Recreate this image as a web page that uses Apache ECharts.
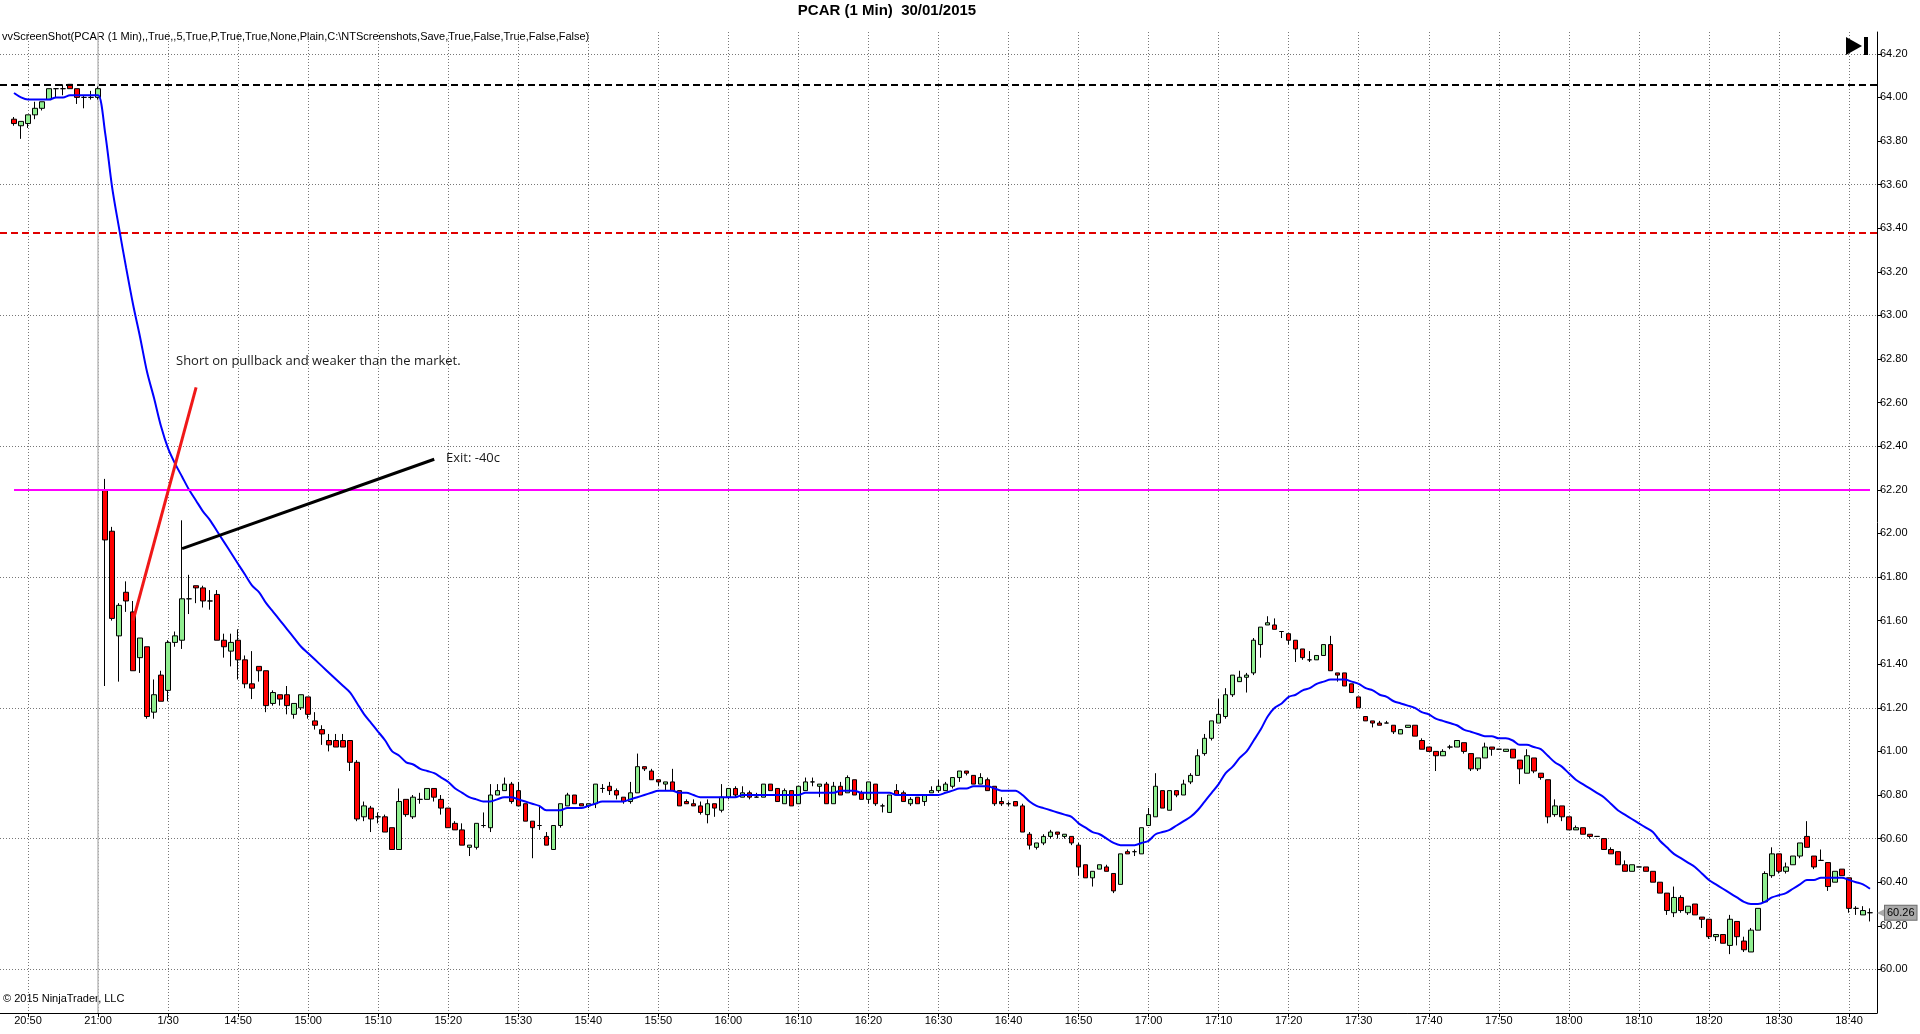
<!DOCTYPE html>
<html lang="en">
<head>
    <meta charset="utf-8">
    <script src="https://cdn.jsdelivr.net/npm/echarts@6/dist/echarts.min.js"></script>
    <style>
        html, body { margin: 0; padding: 0; background: #fff; }
        #main { width: 1920px; height: 1034px; }
    </style>
</head>
<body>
<div id="main"></div>
<script>
    // sessions shown on the chart (1 minute bars)
    var sessions = [['20:48', '21:00'], ['14:31', '18:43']];
    var dayLabels = {'14:40': '1/30'};

    var open = [
        63.90,63.87,63.88,63.92,63.95,63.99,64.04,64.04,64.06,64.04,
        64.00,64.00,64.00,62.20,62.01,61.53,61.73,61.64,61.43,61.48,
        61.18,61.35,61.28,61.50,61.51,61.70,61.76,61.75,61.69,61.72,
        61.51,61.46,61.51,61.42,61.31,61.39,61.37,61.22,61.26,61.26,
        61.17,61.20,61.25,61.14,61.10,61.05,61.05,61.05,61.05,60.95,
        60.70,60.74,60.70,60.70,60.65,60.55,60.78,60.70,60.78,60.78,
        60.83,60.78,60.74,60.67,60.64,60.56,60.56,60.66,60.65,60.80,
        60.82,60.85,60.82,60.76,60.68,60.66,60.61,60.55,60.66,60.75,
        60.80,60.76,60.75,60.76,60.83,60.84,60.82,60.79,60.77,60.81,
        60.93,60.91,60.87,60.85,60.86,60.82,60.77,60.76,60.75,60.71,
        60.76,60.73,60.79,60.83,60.79,60.81,60.79,60.79,60.85,60.83,
        60.76,60.82,60.76,60.82,60.86,60.84,60.85,60.76,60.84,60.81,
        60.87,60.81,60.78,60.85,60.75,60.72,60.82,60.81,60.76,60.79,
        60.77,60.81,60.82,60.82,60.84,60.88,60.91,60.89,60.85,60.87,
        60.84,60.77,60.76,60.77,60.75,60.62,60.56,60.58,60.61,60.63,
        60.61,60.61,60.57,60.48,60.42,60.46,60.47,60.44,60.39,60.54,
        60.54,60.53,60.66,60.70,60.82,60.73,60.82,60.80,60.86,60.89,
        60.99,61.06,61.13,61.16,61.26,61.32,61.34,61.36,61.49,61.58,
        61.58,61.55,61.54,61.51,61.47,61.42,61.42,61.44,61.49,61.36,
        61.36,61.31,61.25,61.16,61.14,61.13,61.13,61.12,61.08,61.11,
        61.12,61.05,61.02,61.00,60.98,61.02,61.02,61.04,60.99,60.92,
        60.97,61.02,61.01,61.00,61.01,60.96,60.90,60.97,60.90,60.87,
        60.71,60.75,60.70,60.64,60.65,60.62,60.61,60.60,60.55,60.54,
        60.48,60.45,60.47,60.47,60.45,60.40,60.35,60.26,60.33,60.26,
        60.30,60.24,60.23,60.15,60.16,60.11,60.22,60.13,60.08,60.18,
        60.31,60.43,60.53,60.45,60.48,60.52,60.61,60.52,60.50,60.49,
        60.40,60.46,60.42,60.28,60.25,60.26
    ];
    var high = [
        63.91,63.89,63.92,63.98,63.98,64.04,64.04,64.06,64.06,64.04,
        64.01,64.03,64.05,62.25,62.03,61.68,61.78,61.69,61.52,61.48,
        61.33,61.37,61.51,61.55,62.06,61.81,61.76,61.76,61.74,61.74,
        61.54,61.54,61.56,61.44,61.46,61.39,61.37,61.28,61.26,61.30,
        61.22,61.26,61.25,61.18,61.12,61.08,61.08,61.08,61.05,60.96,
        60.77,60.75,60.72,60.71,60.65,60.83,60.78,60.80,60.81,60.83,
        60.83,60.80,60.74,60.68,60.67,60.57,60.67,60.72,60.85,60.85,
        60.88,60.86,60.86,60.76,60.68,60.75,60.63,60.66,60.76,60.81,
        60.80,60.76,60.76,60.85,60.85,60.86,60.83,60.79,60.86,60.99,
        60.93,60.92,60.87,60.86,60.92,60.82,60.78,60.78,60.77,60.78,
        60.76,60.85,60.83,60.84,60.84,60.82,60.81,60.85,60.85,60.83,
        60.83,60.82,60.84,60.88,60.88,60.85,60.86,60.86,60.86,60.89,
        60.87,60.82,60.86,60.85,60.76,60.80,60.85,60.82,60.79,60.79,
        60.80,60.84,60.87,60.86,60.88,60.91,60.91,60.89,60.90,60.88,
        60.84,60.79,60.77,60.77,60.76,60.63,60.58,60.62,60.64,60.63,
        60.62,60.61,60.58,60.48,60.45,60.48,60.48,60.44,60.53,60.55,
        60.55,60.65,60.74,60.90,60.82,60.82,60.82,60.87,60.90,61.01,
        61.08,61.14,61.24,61.29,61.35,61.37,61.36,61.52,61.57,61.62,
        61.61,61.55,61.54,61.51,61.47,61.46,61.44,61.49,61.53,61.36,
        61.36,61.31,61.25,61.16,61.14,61.14,61.14,61.12,61.10,61.12,
        61.12,61.06,61.02,61.00,61.01,61.03,61.05,61.04,60.99,60.97,
        61.04,61.02,61.01,61.01,61.01,60.96,61.01,60.97,60.90,60.87,
        60.78,60.75,60.70,60.66,60.65,60.62,60.61,60.60,60.56,60.54,
        60.50,60.48,60.47,60.47,60.45,60.40,60.35,60.38,60.34,60.29,
        60.30,60.24,60.23,60.16,60.16,60.25,60.22,60.15,60.19,60.28,
        60.45,60.56,60.53,60.49,60.52,60.58,60.68,60.52,60.55,60.49,
        60.45,60.46,60.42,60.29,60.29,60.28
    ];
    var low = [
        63.87,63.81,63.86,63.90,63.94,63.99,64.00,64.01,64.04,63.97,
        63.95,63.99,63.99,61.30,61.60,61.32,61.64,61.37,61.36,61.15,
        61.15,61.23,61.23,61.48,61.47,61.63,61.68,61.66,61.65,61.51,
        61.43,61.39,61.33,61.29,61.24,61.32,61.18,61.21,61.21,61.17,
        61.15,61.19,61.15,61.10,61.03,61.00,61.02,61.02,60.91,60.68,
        60.68,60.63,60.67,60.63,60.55,60.55,60.70,60.69,60.76,60.78,
        60.77,60.71,60.65,60.64,60.57,60.52,60.55,60.65,60.63,60.80,
        60.82,60.76,60.75,60.68,60.51,60.64,60.57,60.55,60.65,60.75,
        60.76,60.75,60.74,60.74,60.81,60.80,60.78,60.76,60.76,60.81,
        60.91,60.87,60.84,60.82,60.82,60.75,60.76,60.75,60.71,60.67,
        60.70,60.72,60.78,60.79,60.79,60.78,60.79,60.79,60.82,60.77,
        60.76,60.75,60.76,60.82,60.84,60.79,60.76,60.76,60.80,60.81,
        60.80,60.78,60.76,60.75,60.72,60.72,60.80,60.77,60.75,60.76,
        60.75,60.81,60.81,60.82,60.83,60.86,60.89,60.85,60.85,60.82,
        60.75,60.75,60.75,60.75,60.63,60.55,60.55,60.57,60.60,60.60,
        60.60,60.57,60.43,60.42,60.38,60.46,60.45,60.35,60.39,60.53,
        60.52,60.53,60.66,60.70,60.74,60.73,60.79,60.80,60.85,60.89,
        60.98,61.05,61.13,61.15,61.25,61.32,61.27,61.35,61.43,61.58,
        61.56,61.52,61.49,61.41,61.42,61.41,61.42,61.44,61.37,61.32,
        61.30,61.27,61.20,61.14,61.11,61.12,61.13,61.08,61.08,61.11,
        61.07,61.01,61.00,60.91,60.98,61.01,61.02,60.99,60.91,60.91,
        60.97,60.98,61.01,61.00,60.97,60.85,60.90,60.90,60.87,60.67,
        60.70,60.68,60.64,60.64,60.62,60.60,60.61,60.55,60.53,60.48,
        60.45,60.45,60.47,60.45,60.40,60.35,60.25,60.24,60.26,60.25,
        60.25,60.19,60.14,60.13,60.12,60.07,60.11,60.08,60.08,60.18,
        60.31,60.42,60.44,60.44,60.48,60.51,60.56,60.46,60.50,60.36,
        60.40,60.43,60.26,60.25,60.25,60.22
    ];
    var close = [
        63.88,63.89,63.92,63.95,63.98,64.04,64.04,64.04,64.04,64.00,
        64.00,64.00,64.04,61.97,61.61,61.67,61.69,61.37,61.52,61.16,
        61.26,61.23,61.50,61.53,61.70,61.70,61.75,61.69,61.69,61.51,
        61.48,61.50,61.42,61.31,61.29,61.37,61.21,61.27,61.24,61.21,
        61.22,61.26,61.17,61.12,61.08,61.03,61.02,61.02,60.95,60.69,
        60.75,60.69,60.70,60.63,60.55,60.77,60.71,60.79,60.78,60.83,
        60.79,60.74,60.65,60.64,60.57,60.57,60.67,60.66,60.80,60.82,
        60.85,60.77,60.75,60.68,60.65,60.66,60.57,60.66,60.76,60.80,
        60.76,60.75,60.76,60.85,60.83,60.82,60.80,60.77,60.81,60.93,
        60.92,60.87,60.86,60.86,60.82,60.75,60.76,60.75,60.72,60.76,
        60.74,60.79,60.83,60.80,60.81,60.79,60.79,60.85,60.82,60.77,
        60.82,60.75,60.84,60.86,60.86,60.85,60.76,60.84,60.80,60.88,
        60.80,60.78,60.86,60.76,60.75,60.80,60.80,60.77,60.78,60.76,
        60.80,60.82,60.84,60.85,60.88,60.91,60.90,60.85,60.88,60.82,
        60.76,60.76,60.76,60.75,60.63,60.57,60.58,60.61,60.63,60.62,
        60.62,60.58,60.47,60.42,60.45,60.48,60.45,60.36,60.53,60.53,
        60.54,60.65,60.71,60.84,60.74,60.82,60.80,60.85,60.89,60.98,
        61.06,61.14,61.17,61.26,61.35,61.34,61.35,61.51,61.57,61.59,
        61.56,61.55,61.51,61.47,61.43,61.42,61.44,61.49,61.37,61.35,
        61.30,61.27,61.20,61.14,61.13,61.12,61.13,61.09,61.10,61.12,
        61.07,61.01,61.00,60.98,61.00,61.02,61.05,61.00,60.92,60.97,
        61.02,61.01,61.01,61.01,60.97,60.92,60.98,60.91,60.88,60.70,
        60.75,60.70,60.64,60.65,60.62,60.61,60.61,60.55,60.53,60.48,
        60.45,60.48,60.47,60.45,60.40,60.35,60.27,60.33,60.27,60.29,
        60.25,60.23,60.15,60.16,60.12,60.23,60.15,60.09,60.18,60.28,
        60.44,60.53,60.45,60.47,60.52,60.58,60.56,60.47,60.50,60.38,
        60.45,60.43,60.28,60.28,60.27,60.26
    ];
    // blue moving average as plotted
    var avgLine = [
        64.02,64.00,63.99,63.99,63.99,63.99,64.00,64.00,64.01,64.01,
        64.01,64.01,64.01,63.84,63.59,63.40,63.22,63.05,62.90,62.74,
        62.62,62.49,62.39,62.32,62.26,62.20,62.15,62.10,62.06,62.01,
        61.96,61.91,61.86,61.81,61.76,61.73,61.68,61.64,61.60,61.56,
        61.52,61.48,61.45,61.42,61.39,61.36,61.33,61.30,61.27,61.22,
        61.17,61.13,61.09,61.05,61.00,60.98,60.95,60.94,60.92,60.91,
        60.90,60.88,60.86,60.83,60.81,60.79,60.78,60.77,60.77,60.78,
        60.79,60.79,60.78,60.77,60.76,60.75,60.73,60.73,60.73,60.74,
        60.74,60.74,60.75,60.76,60.77,60.77,60.77,60.77,60.78,60.79,
        60.80,60.81,60.82,60.82,60.82,60.81,60.81,60.80,60.79,60.79,
        60.79,60.79,60.79,60.79,60.80,60.80,60.80,60.80,60.80,60.80,
        60.80,60.80,60.80,60.81,60.81,60.81,60.81,60.81,60.82,60.82,
        60.82,60.81,60.81,60.81,60.81,60.81,60.80,60.80,60.80,60.80,
        60.80,60.80,60.80,60.81,60.82,60.83,60.83,60.84,60.84,60.84,
        60.83,60.82,60.82,60.82,60.80,60.77,60.75,60.74,60.73,60.72,
        60.71,60.70,60.67,60.65,60.63,60.62,60.60,60.58,60.57,60.57,
        60.57,60.58,60.59,60.62,60.63,60.64,60.66,60.68,60.70,60.73,
        60.77,60.81,60.85,60.90,60.93,60.97,61.00,61.05,61.10,61.16,
        61.20,61.22,61.25,61.26,61.28,61.29,61.31,61.32,61.33,61.33,
        61.33,61.32,61.31,61.29,61.28,61.26,61.25,61.23,61.22,61.21,
        61.20,61.18,61.17,61.15,61.14,61.13,61.12,61.10,61.09,61.08,
        61.07,61.07,61.06,61.06,61.05,61.03,61.03,61.02,61.01,60.98,
        60.95,60.93,60.90,60.87,60.85,60.83,60.81,60.79,60.76,60.73,
        60.71,60.69,60.67,60.65,60.63,60.59,60.56,60.53,60.51,60.49,
        60.47,60.44,60.41,60.39,60.37,60.35,60.33,60.31,60.30,60.30,
        60.31,60.33,60.34,60.35,60.37,60.39,60.41,60.41,60.42,60.42,
        60.42,60.42,60.41,60.40,60.39,60.37
    ];

    // horizontal levels drawn on the chart
    var stopLevel = 64.055;      // black dashed
    var targetLevel = 63.375;    // red dashed
    var entryLevel = 62.20;      // magenta
    var gridLevels = [60.0, 60.6, 61.2, 61.8, 62.4, 63.0, 63.6, 64.2];

    // build the minute categories, two empty slots in front and one behind
    function minuteRange(from, to) {
        var toMin = function (s) { var p = s.split(':'); return +p[0] * 60 + +p[1]; };
        var out = [];
        for (var m = toMin(from); m <= toMin(to); m++) {
            var h = Math.floor(m / 60), mm = m % 60;
            out.push((h < 10 ? '0' : '') + h + ':' + (mm < 10 ? '0' : '') + mm);
        }
        return out;
    }
    var times = [];
    sessions.forEach(function (s) { times = times.concat(minuteRange(s[0], s[1])); });
    var lead = 2;
    var categories = ['pad0', 'pad1'].concat(times, ['pad2']);

    var candles = ['-', '-'];
    var avg = ['-', '-'];
    for (var i = 0; i < times.length; i++) {
        candles.push([open[i], close[i], low[i], high[i]]);
        avg.push(avgLine[i]);
    }
    candles.push('-');
    avg.push('-');

    var lastClose = close[close.length - 1];
    var sessionBreak = lead + times.indexOf('21:00');

    function showTick(index) {
        return index % 10 === 4;
    }

    var fontAx = '"Liberation Sans", Arial, sans-serif';
    var myChart = echarts.init(document.getElementById('main'));

    myChart.setOption({
        animation: false,
        backgroundColor: '#ffffff',
        grid: {left: 0, right: 43, top: 32, bottom: 21, containLabel: false},
        xAxis: {
            type: 'category',
            data: categories,
            boundaryGap: false,
            axisLine: {lineStyle: {color: '#000', width: 1}},
            axisTick: {interval: showTick, length: 4, lineStyle: {color: '#000'}},
            axisLabel: {
                interval: showTick,
                margin: 2,
                fontSize: 11,
                fontFamily: fontAx,
                color: '#000',
                formatter: function (v) { return dayLabels[v] || v; }
            },
            splitLine: {show: true, interval: showTick, lineStyle: {color: '#777', type: [1, 2], width: 1}}
        },
        yAxis: {
            type: 'value',
            position: 'right',
            min: 59.8,
            max: 64.3,
            interval: 0.2,
            axisLine: {show: true, lineStyle: {color: '#000', width: 1}},
            axisTick: {show: true, length: 5, lineStyle: {color: '#000'}},
            axisLabel: {
                margin: 3,
                fontSize: 11,
                fontFamily: fontAx,
                color: '#000',
                showMinLabel: false,
                showMaxLabel: false,
                formatter: function (v) { return v.toFixed(2); }
            },
            splitLine: {show: false}
        },
        series: [
            {
                // dotted price grid and session break, behind the bars
                name: 'grid',
                type: 'line',
                data: [],
                silent: true,
                markLine: {
                    z: 1,
                    silent: true,
                    symbol: ['none', 'none'],
                    label: {show: false},
                    lineStyle: {color: '#777', type: [1, 2], width: 1},
                    data: gridLevels.map(function (v) { return {yAxis: v}; }).concat([
                        {xAxis: sessionBreak, lineStyle: {color: '#bdbdbd', type: 'solid', width: 1.5}}
                    ])
                }
            },
            {
                name: 'PCAR',
                type: 'candlestick',
                z: 3,
                barWidth: 5,
                data: candles,
                itemStyle: {
                    color: '#90ee90',
                    color0: '#ff0000',
                    borderColor: '#000',
                    borderColor0: '#000',
                    borderColorDoji: '#000',
                    borderWidth: 1
                },
                markLine: {
                    z: 6,
                    silent: true,
                    symbol: ['none', 'none'],
                    data: [{
                        yAxis: lastClose,
                        lineStyle: {color: 'rgba(0,0,0,0)', width: 0},
                        label: {
                            show: true,
                            position: 'end',
                            distance: 0,
                            opacity: 1,
                            formatter: '{a|\u25c0}{b|' + lastClose.toFixed(2) + '}',
                            rich: {
                                a: {color: '#a9a9a9', fontSize: 12, padding: [0, -1, 0, 0]},
                                b: {
                                    color: '#000',
                                    fontSize: 11,
                                    fontFamily: fontAx,
                                    backgroundColor: '#a9a9a9',
                                    borderColor: '#6e6e6e',
                                    borderWidth: 1,
                                    padding: [2, 2, 1, 2]
                                }
                            }
                        }
                    }]
                }
            },
            {
                name: 'average',
                type: 'line',
                z: 4,
                data: avg,
                showSymbol: false,
                smooth: 0.3,
                lineStyle: {color: '#0000ff', width: 2},
                markLine: {
                    z: 5,
                    silent: true,
                    symbol: ['none', 'none'],
                    label: {show: false},
                    data: [
                        {yAxis: stopLevel, lineStyle: {color: '#000', type: [7, 4], width: 2}},
                        {yAxis: targetLevel, lineStyle: {color: '#e00000', type: [7, 4], width: 2}},
                        [{coord: [lead, entryLevel], lineStyle: {color: '#ff00ff', type: 'solid', width: 2}},
                         {coord: [lead + times.length - 1, entryLevel]}],
                        // trade annotations
                        [{coord: [lead + 17, 61.60], lineStyle: {color: '#f01818', type: 'solid', width: 3}},
                         {coord: [lead + 26, 62.67]}],
                        [{coord: [lead + 24, 61.93], lineStyle: {color: '#000', type: 'solid', width: 3}},
                         {coord: [lead + 60, 62.34]}]
                    ]
                }
            }
        ],
        graphic: [
            {type: 'text', x: 887, y: 11, style: {text: 'PCAR (1 Min)  30/01/2015', font: 'bold 15px "Liberation Sans", Arial', fill: '#000', align: 'center', verticalAlign: 'middle'}},
            {type: 'text', x: 2, y: 37, style: {text: 'vvScreenShot(PCAR (1 Min),,True,,5,True,P,True,True,None,Plain,C:\\NTScreenshots,Save,True,False,True,False,False)', font: '11px "Liberation Sans", Arial', fill: '#000', verticalAlign: 'middle'}},
            {type: 'text', x: 3, y: 999, style: {text: '\u00a9 2015 NinjaTrader, LLC', font: '11px "Liberation Sans", Arial', fill: '#000', verticalAlign: 'middle'}},
            {type: 'text', x: 176, y: 361, z: 10, style: {text: 'Short on pullback and weaker than the market.', font: '13px "Open Sans", sans-serif', fill: '#1a1a1a', verticalAlign: 'middle'}},
            {type: 'text', x: 446, y: 458, z: 10, style: {text: 'Exit: -40c', font: '13px "Open Sans", sans-serif', fill: '#1a1a1a', verticalAlign: 'middle'}},
            {type: 'polygon', z: 10, shape: {points: [[1846, 37], [1846, 55], [1862, 46]]}, style: {fill: '#000'}},
            {type: 'rect', z: 10, shape: {x: 1864, y: 37, width: 4, height: 18}, style: {fill: '#000'}}
        ]
    });
</script>
</body>
</html>
